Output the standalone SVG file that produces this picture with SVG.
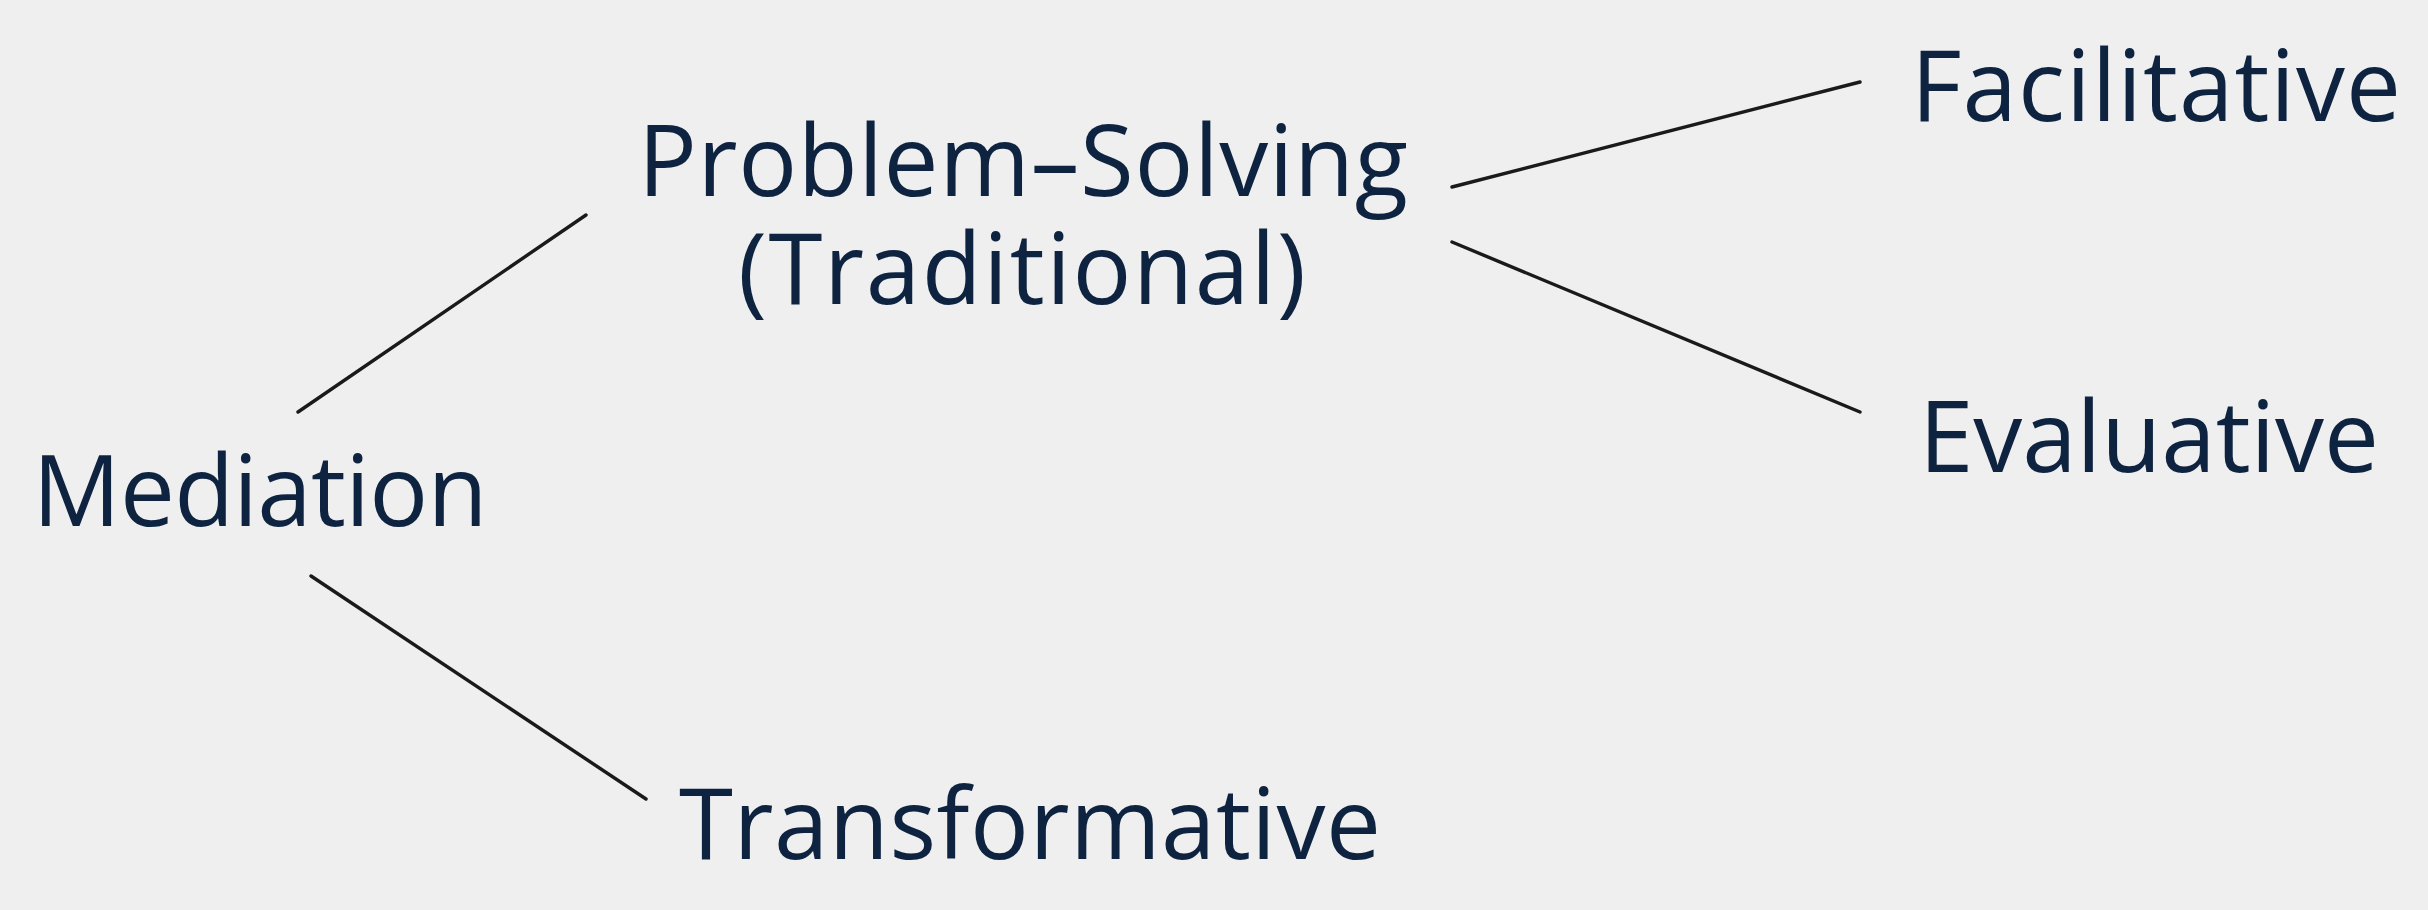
<svg xmlns="http://www.w3.org/2000/svg" width="2428" height="910" viewBox="0 0 2428 910">
<style>
.lbl{font-family:"Open Sans","Noto Sans","Liberation Sans",sans-serif;font-size:98px;fill:#0d2340;text-anchor:middle}
.edge{stroke:#1a1a1a;stroke-width:3.4;stroke-linecap:round;fill:none}
</style>
<rect width="2428" height="910" fill="#efefef"/>
<g id="connectors">
<line class="edge" x1="298" y1="412" x2="586" y2="215"/>
<line class="edge" x1="311" y1="576" x2="646" y2="799"/>
<line class="edge" x1="1452" y1="187" x2="1860" y2="82"/>
<line class="edge" x1="1452" y1="242" x2="1860" y2="412"/>
</g>
<g id="mediation"><text class="lbl" x="260" y="526" textLength="455" lengthAdjust="spacing">Mediation</text></g>
<g id="problem-solving"><text class="lbl" x="1023" y="196" textLength="770" lengthAdjust="spacing">Problem–Solving</text><text class="lbl" x="1022" y="304" textLength="568" lengthAdjust="spacing">(Traditional)</text></g>
<g id="facilitative"><text class="lbl" x="2156" y="121" textLength="490" lengthAdjust="spacing">Facilitative</text></g>
<g id="evaluative"><text class="lbl" x="2149" y="472" textLength="460" lengthAdjust="spacing">Evaluative</text></g>
<g id="transformative"><text class="lbl" x="1030" y="859" textLength="702" lengthAdjust="spacing">Transformative</text></g>
</svg>
